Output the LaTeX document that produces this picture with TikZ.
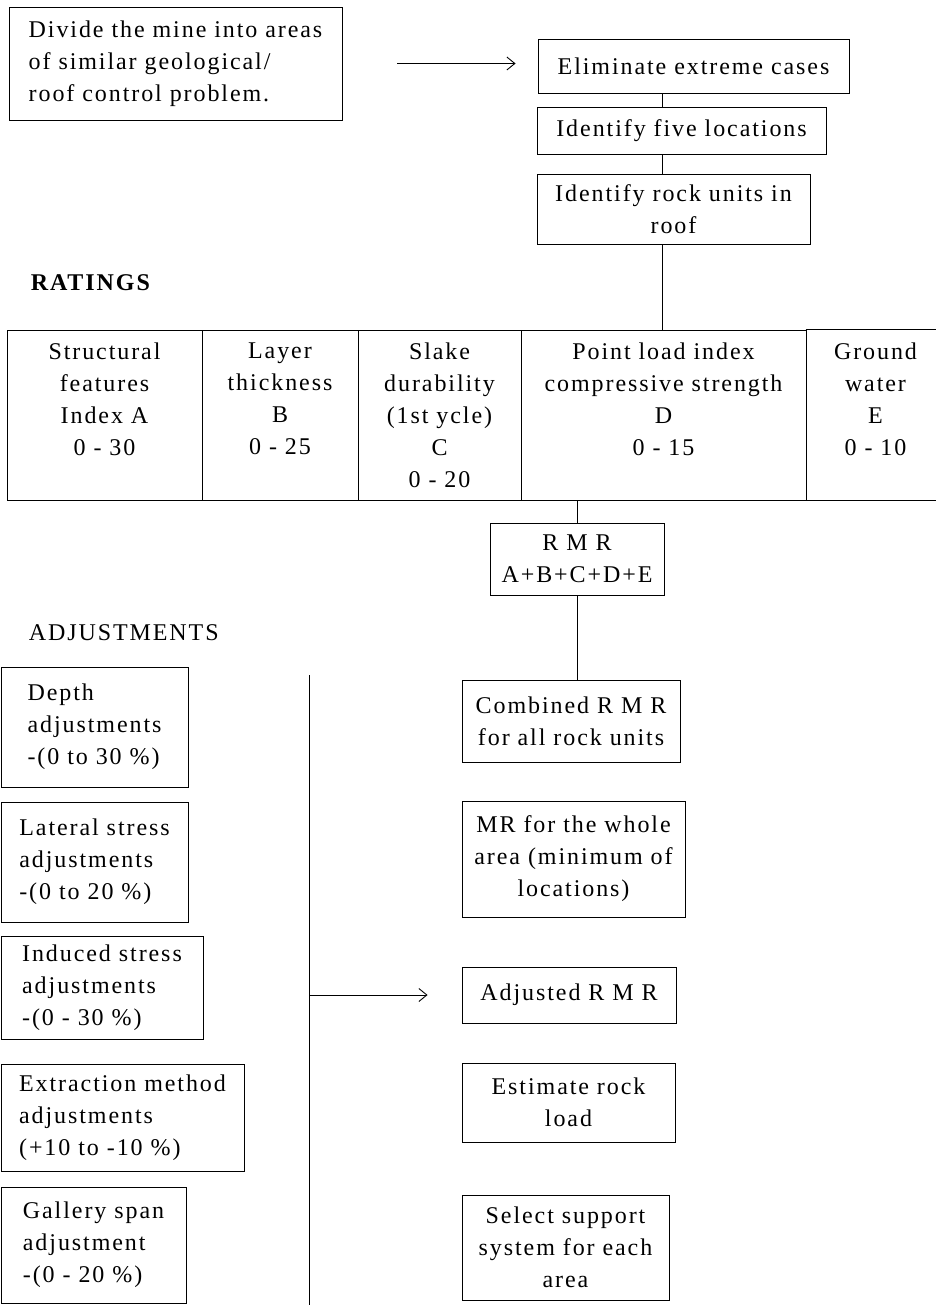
\documentclass[tikz,border=0pt]{standalone}
\usepackage{fontspec}
\setmainfont{Liberation Serif}[LetterSpace=8]
\usetikzlibrary{arrows.meta}

\begin{document}
\begin{tikzpicture}[x=1pt, y=-1pt, line width=0.9pt,
		font=\fontsize{24}{32}\selectfont,
		>={Straight Barb[length=8pt,width=13pt]},
		box/.style={draw, align=center, inner sep=0pt},
		adjbox/.style={draw, align=left, inner sep=0pt},
		cell/.style={draw, align=center, inner sep=0pt, minimum height=170pt}]
		\useasboundingbox (0,0) rectangle (935,1305);
		\coordinate (spine) at (662,0);
		% top of the chart
		\node [adjbox, minimum width=333pt, minimum height=113pt] (divide) at (175.5,63.5) {Divide the mine into areas\\of similar geological/\\roof control problem.};
		\node [box, minimum width=311pt, minimum height=54pt] (elim) at (693.5,66) {Eliminate extreme cases};
		\node [box, minimum width=289pt, minimum height=47pt] (five) at (681.5,130.5) {Identify five locations};
		\node [box, minimum width=273pt, minimum height=70pt] (rock) at (673.5,209) {Identify rock units in\\roof};
		\draw [->, shorten <=55pt, shorten >=22pt] (divide.east) -- (divide.east -| elim.west);
		\draw (elim.south -| spine) -- (five.north -| spine);
		\draw (five.south -| spine) -- (rock.north -| spine);
		% ratings
		\node [anchor=west, font=\fontsize{24}{32}\selectfont\bfseries] (ratings) at (27,283) {RATINGS};
		\node [cell, minimum width=195pt] (cellA) at (104.5,415) {Structural\\features\\Index A\\0 - 30\\~};
		\node [cell, minimum width=156pt] (cellB) at (280,415) {Layer\\thickness\\B\\0 - 25\\~};
		\node [cell, minimum width=163pt] (cellC) at (439.5,415) {Slake\\durability\\(1st ycle)\\C\\0 - 20};
		\node [cell, minimum width=285pt] (cellD) at (663.5,415) {Point load index\\compressive strength\\D\\0 - 15\\~};
		\node [align=center, inner sep=0pt, minimum width=139pt, minimum height=170pt] (cellE) at (875.5,415) {Ground\\water\\E\\0 - 10\\~};
		\draw (cellE.north west) -- (cellE.north east);
		\draw (cellE.south west) -- (cellE.south east);
		\draw (rock.south -| spine) -- (cellD.north -| spine);
		\node [box, minimum width=174pt, minimum height=72pt] (rmr) at (577,559) {R M R\\A+B+C+D+E};
		\draw (cellD.south -| rmr) -- (rmr.north);
		% adjustments
		\node [anchor=west] (adjust) at (25,633) {ADJUSTMENTS};
		\node [adjbox, minimum width=187pt, minimum height=120pt] (depth) at (94.5,727) {Depth\\adjustments\\-(0 to 30 \%)};
		\node [adjbox, minimum width=187pt, minimum height=120pt] (lateral) at (94.5,862) {Lateral stress\\adjustments\\-(0 to 20 \%)};
		\node [adjbox, minimum width=202pt, minimum height=103pt] (induced) at (102,987.5) {Induced stress\\adjustments\\-(0 - 30 \%)};
		\node [adjbox, minimum width=243pt, minimum height=107pt] (extract) at (122.5,1117.5) {Extraction method\\adjustments\\(+10 to -10 \%)};
		\node [adjbox, minimum width=185pt, minimum height=116pt] (gallery) at (93.5,1245) {Gallery span\\adjustment\\-(0 - 20 \%)};
		\coordinate (busTop) at (309,675);
		\coordinate (busBot) at (309,1305);
		\draw (busTop) -- (busBot);
		% right column
		\node [box, minimum width=218pt, minimum height=82pt] (comb) at (571,721) {Combined R M R\\for all rock units};
		\node [box, minimum width=223pt, minimum height=116pt] (whole) at (573.5,859) {MR for the whole\\area (minimum of\\locations)};
		\node [box, minimum width=214pt, minimum height=56pt] (adj) at (569,995) {Adjusted R M R};
		\node [box, minimum width=213pt, minimum height=79pt] (est) at (568.5,1102.5) {Estimate rock\\load};
		\node [box, minimum width=207pt, minimum height=105pt] (sel) at (565.5,1247.5) {Select support\\system for each\\area};
		\draw (rmr.south) -- (rmr.south |- comb.north);
		\draw [->, shorten >=34pt] (busTop |- adj) -- (adj.west);
	\end{tikzpicture}
\end{document}
